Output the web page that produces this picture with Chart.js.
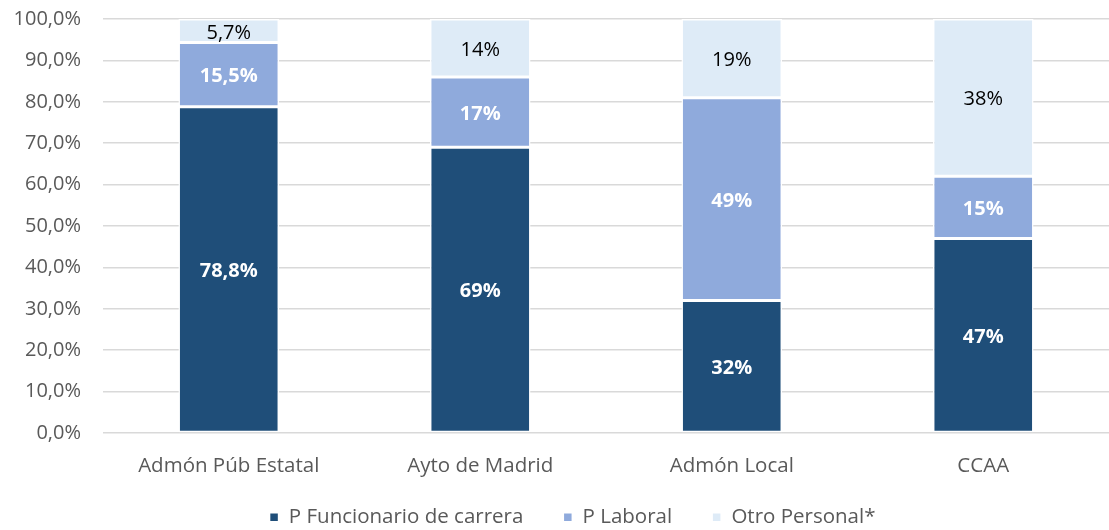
<!DOCTYPE html>
<html><head><meta charset="utf-8">
<script src="https://cdn.jsdelivr.net/npm/chart.js@4.4.1/dist/chart.umd.min.js"></script>
<style>html,body{margin:0;padding:0;background:#fff}#wrap{width:1109px;height:530px}</style>
</head><body><div id="wrap"><canvas id="c" width="1109" height="530"></canvas></div>
<script>
const categories = ['Admón Púb Estatal', 'Ayto de Madrid', 'Admón Local', 'CCAA'];
const funcionario = [78.8, 69, 32, 47];
const laboral = [15.5, 17, 49, 15];
const otro = [5.7, 14, 19, 38];
const funcionarioLabels = ['78,8%', '69%', '32%', '47%'];
const laboralLabels = ['15,5%', '17%', '49%', '15%'];
const otroLabels = ['5,7%', '14%', '19%', '38%'];
const seriesNames = ['P Funcionario de carrera', 'P Laboral', 'Otro Personal*'];

const FONT = '"Open Sans", Lato, sans-serif';

const labelPlugin = {
  id: 'segLabels',
  afterDatasetsDraw(chart) {
    const ctx = chart.ctx;
    const labelSets = [funcionarioLabels, laboralLabels, otroLabels];
    chart.data.datasets.forEach((ds, di) => {
      const meta = chart.getDatasetMeta(di);
      meta.data.forEach((bar, i) => {
        const p = bar.getProps(['x', 'y', 'base'], true);
        const cy = (p.y + p.base) / 2;
        ctx.save();
        ctx.textAlign = 'center';
        ctx.textBaseline = 'middle';
        if (di < 2) { ctx.fillStyle = '#ffffff'; ctx.font = 'bold 20px ' + FONT; }
        else { ctx.fillStyle = '#000000'; ctx.font = '20px ' + FONT; }
        ctx.fillText(labelSets[di][i], p.x, cy + 2);
        ctx.restore();
      });
    });
  }
};

const legendShift = {
  id: 'legendShift',
  afterLayout(chart) {
    const lg = chart.legend;
    if (lg) { lg.top -= 10; lg.bottom -= 10; lg.left += 18; lg.right += 18; }
  }
};

new Chart(document.getElementById('c'), {
  type: 'bar',
  data: {
    labels: categories,
    datasets: [
      { label: seriesNames[0], data: funcionario, backgroundColor: '#1F4E79' },
      { label: seriesNames[1], data: laboral, backgroundColor: '#8FAADC' },
      { label: seriesNames[2], data: otro, backgroundColor: '#DEEBF7' }
    ]
  },
  options: {
    responsive: false,
    animation: false,
    devicePixelRatio: 1,
    layout: { padding: { top: 0, right: 0, left: 0, bottom: -7 } },
    datasets: { bar: { categoryPercentage: 1, barPercentage: 0.4, borderColor: '#ffffff', borderWidth: 1.5, borderSkipped: false } },
    scales: {
      x: {
        stacked: true,
        grid: { display: false, drawTicks: false },
        border: { display: false },
        ticks: { color: '#595959', font: { family: FONT, size: 20.5 }, padding: 21 },
        afterFit: s => { s.height = 44; s.paddingLeft = 0; s.paddingRight = 0; }
      },
      y: {
        stacked: true,
        min: 0, max: 100,
        ticks: { stepSize: 10, color: '#595959', font: { family: FONT, size: 20 }, padding: 22,
          callback: v => v.toFixed(1).replace('.', ',') + '%' },
        grid: { color: '#d9d9d9', lineWidth: 1.5, drawTicks: false },
        border: { display: false },
        afterFit: s => { s.width = 103; s.paddingTop = 19; s.paddingBottom = 0; }
      }
    },
    plugins: {
      legend: {
        position: 'bottom',
        maxHeight: 60,
        labels: { color: '#595959', font: { family: FONT, size: 20.5 }, boxWidth: 9, boxHeight: 9, padding: 40 }
      },
      tooltip: { enabled: false }
    }
  },
  plugins: [labelPlugin, legendShift]
});
</script></body></html>
